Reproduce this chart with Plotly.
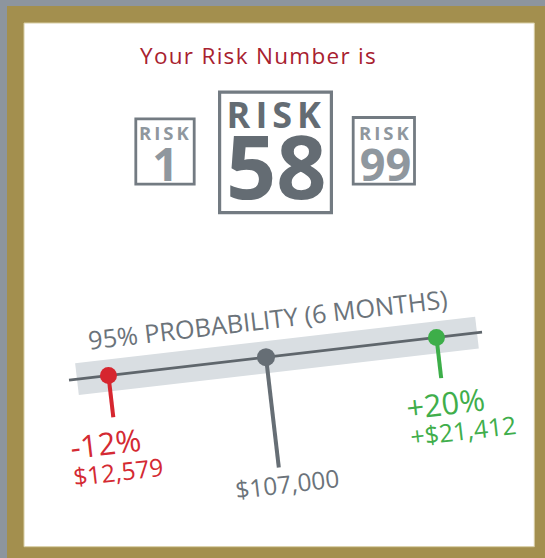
import math
import plotly.graph_objects as go

# ---------------- data ----------------
title_text = "Your Risk Number is"
risk_word = "RISK"
risk_numbers = [1, 58, 99]              # left, current, right
probability_label = "95% PROBABILITY (6 MONTHS)"
outcome_pct = ["-12%", "", "+20%"]
outcome_amount = ["$12,579", "$107,000", "+$21,412"]
outcome_colors = ["#d6262f", "#666e75", "#3dae49"]
outcome_text_colors = ["#d42a33", "#6b737a", "#40ae4b"]

# ---------------- layout constants ----------------
W, H = 545, 558
OX, OY = 266.0, 357.2          # centre of the tilted scale
ANG = 6.63                      # tilt in degrees
C, S = math.cos(math.radians(ANG)), math.sin(math.radians(ANG))


def P(u, v):
    """rotated frame (u along the scale, v perpendicular, downwards) -> screen"""
    return OX + u * C + v * S, OY - u * S + v * C


slot_u = [-158.6, 0.0, 171.6]
stem_len = [42, 111, 41]
pct_pos = [(-168.8, 66.3), None, (172.5, 66.3)]
amt_pos = [(-160.2, 96.0), (6.8, 127.5), (187.3, 95.2)]
pct_size = [31, 0, 31]
amt_size = [24.5, 24.5, 25]

fig = go.Figure()

# background frame
shapes = [
    dict(type="rect", x0=7, x1=W + 5, y0=6, y1=H + 5, fillcolor="#a38f4e",
         line=dict(width=0), layer="below"),
    dict(type="rect", x0=24, x1=534.3, y0=23, y1=546.7, fillcolor="#ffffff",
         line=dict(width=1, color="#d8cea4"), layer="below"),
]

# band
band = [P(-190.3, -16), P(212.4, -16), P(212.4, 16), P(-190.3, 16)]
path = "M " + " L ".join(f"{x:.2f},{y:.2f}" for x, y in band) + " Z"
shapes.append(dict(type="path", path=path, fillcolor="#d9dee2",
                   line=dict(width=0), layer="below"))

# risk boxes
box_color = "#737b82"
shapes += [
    dict(type="rect", x0=135.8, x1=194.2, y0=118.8, y1=184.2,
         line=dict(color=box_color, width=2.8), fillcolor="rgba(0,0,0,0)"),
    dict(type="rect", x0=219.6, x1=331.4, y0=92.1, y1=212.6,
         line=dict(color=box_color, width=3.2), fillcolor="rgba(0,0,0,0)"),
    dict(type="rect", x0=353.2, x1=414.5, y0=117.5, y1=184.2,
         line=dict(color=box_color, width=2.8), fillcolor="rgba(0,0,0,0)"),
]

# main line of the scale
lx0, ly0 = P(-198.3, 0)
lx1, ly1 = P(217.5, 0)
fig.add_trace(go.Scatter(x=[lx0, lx1], y=[ly0, ly1], mode="lines",
                         line=dict(color="#5f666c", width=2.8),
                         hoverinfo="skip", showlegend=False))

# stems
for u, L, col in zip(slot_u, stem_len, outcome_colors):
    x0, y0 = P(u, 0)
    x1, y1 = P(u, L)
    fig.add_trace(go.Scatter(x=[x0, x1], y=[y0, y1], mode="lines",
                             line=dict(color=col, width=4),
                             hoverinfo="skip", showlegend=False))

# dots
pts = [P(u, 0) for u in slot_u]
fig.add_trace(go.Scatter(x=[p[0] for p in pts], y=[p[1] for p in pts],
                         mode="markers",
                         marker=dict(size=[17, 18, 17], color=outcome_colors,
                                     opacity=1, line=dict(width=0)),
                         hoverinfo="skip", showlegend=False))

ann = []
FONT = "Open Sans"


def sp(t, ls):
    return f"<span style='letter-spacing:{ls}px'>{t}</span>"


def risk_block(num, word_size, word_ls, num_size, base_size):
    return (f"<span style='font-size:{word_size}px;letter-spacing:{word_ls}px'>"
            f"{risk_word}</span><br>"
            f"<span style='font-size:{num_size}px'>{num}</span>")


# title
ann.append(dict(x=258.5, y=55, text=sp(title_text, 1.3), showarrow=False,
                font=dict(family=FONT, size=22.5, color="#a8212f")))

# risk boxes text (word + number stacked in one text block)
small_col = "#8f979e"
mid_col = "#646c73"
ann += [
    dict(x=165.5, y=157.0, text=risk_block(risk_numbers[0], 18.5, 3, 46, 31.5),
         showarrow=False,
         font=dict(family=FONT, size=31.5, color=small_col, weight=700)),
    dict(x=276.0, y=157.1, text=risk_block(risk_numbers[1], 36, 5, 88, 54.5),
         showarrow=False,
         font=dict(family=FONT, size=54.5, color=mid_col, weight=700)),
    dict(x=385.0, y=157.0, text=risk_block(risk_numbers[2], 18.5, 3, 45, 31.2),
         showarrow=False,
         font=dict(family=FONT, size=31.2, color=small_col, weight=700)),
]

# probability label
px_, py_ = P(5.9, -37.7)
ann.append(dict(x=px_, y=py_, text=probability_label, showarrow=False,
                textangle=-ANG,
                font=dict(family=FONT, size=25.3, color="#6b737a")))

for i in range(3):
    if outcome_pct[i]:
        x, y = P(*pct_pos[i])
        ann.append(dict(x=x, y=y, text=outcome_pct[i], showarrow=False,
                        textangle=-ANG,
                        font=dict(family=FONT, size=pct_size[i],
                                  color=outcome_text_colors[i])))
    x, y = P(*amt_pos[i])
    ann.append(dict(x=x, y=y, text=outcome_amount[i], showarrow=False,
                    textangle=-ANG,
                    font=dict(family=FONT, size=amt_size[i],
                              color=outcome_text_colors[i])))

for a in ann:
    a.setdefault("xanchor", "center")
    a.setdefault("yanchor", "middle")
    a["xref"] = "x"
    a["yref"] = "y"

fig.update_layout(
    width=W, height=H,
    margin=dict(l=0, r=0, t=0, b=0),
    paper_bgcolor="#8d959e", plot_bgcolor="rgba(0,0,0,0)",
    xaxis=dict(range=[0, W], visible=False, fixedrange=True),
    yaxis=dict(range=[H, 0], visible=False, fixedrange=True),
    shapes=shapes, annotations=ann, showlegend=False,
)

post = ("document.body.style.margin='0';"
        "document.body.style.padding='0';"
        "document.body.style.overflow='hidden';"
        "document.body.style.background='#8d959e';")
fig.write_html("out.html", config=dict(displayModeBar=False), post_script=post)
